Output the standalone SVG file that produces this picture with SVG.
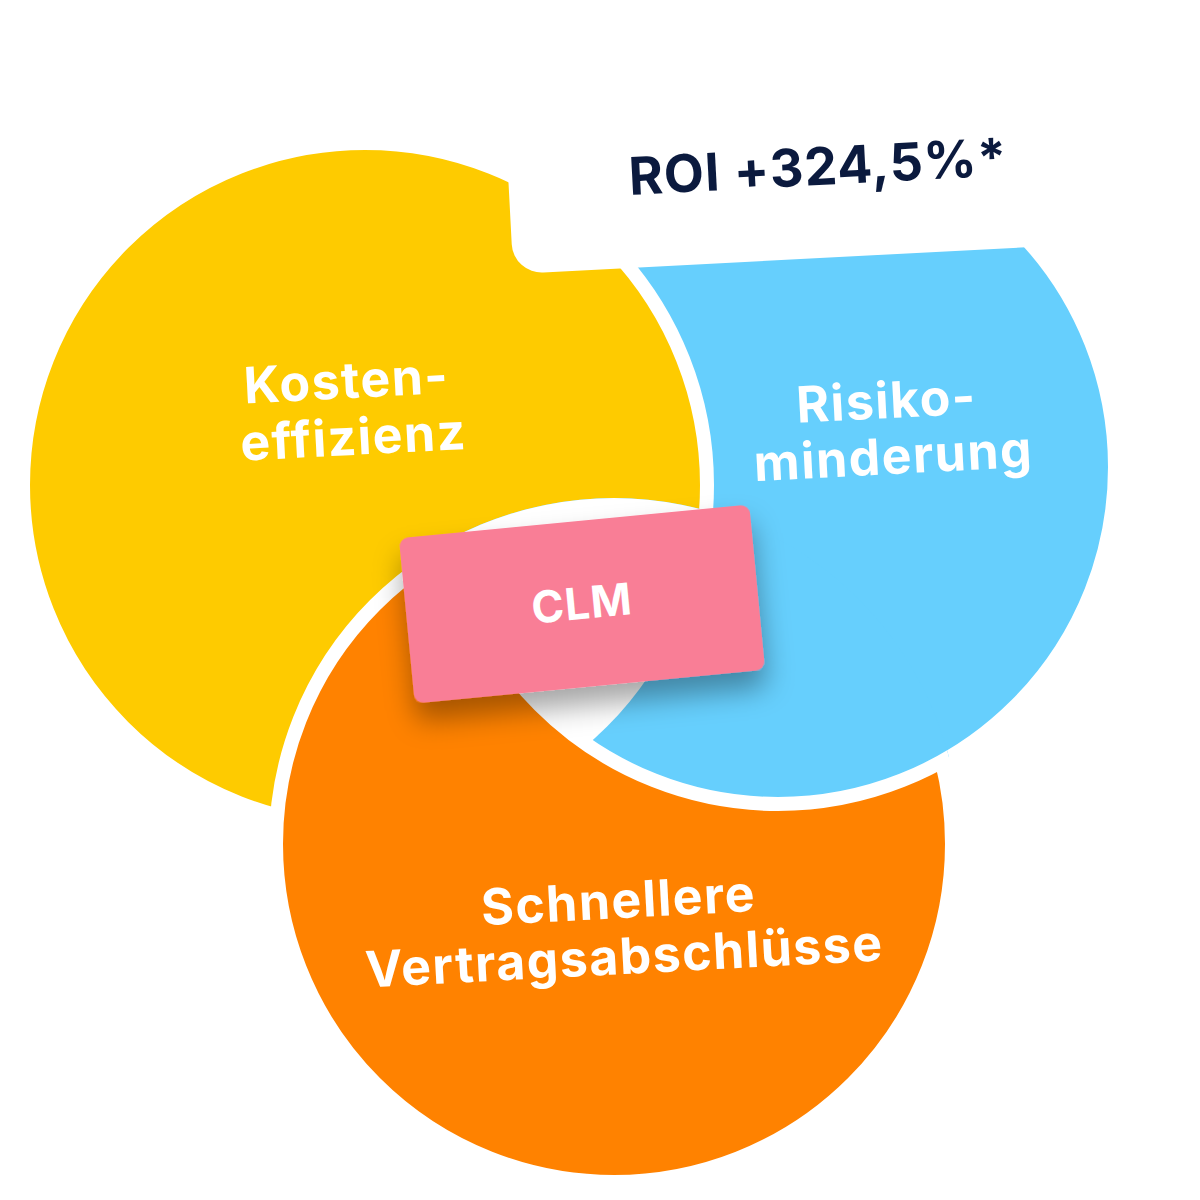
<svg xmlns="http://www.w3.org/2000/svg" width="1200" height="1200" viewBox="0 0 1200 1200">
<style>
.lbl{font-family:Inter,"Open Sans","Liberation Sans",sans-serif;font-weight:700;fill:#fff;font-size:50px;letter-spacing:1.5px;text-anchor:middle}
.ring{stroke:#fff;stroke-width:14}
</style>
<defs>
<clipPath id="cY"><circle cx="365" cy="485" r="342"/></clipPath>
<clipPath id="cO"><circle cx="614" cy="844" r="346"/></clipPath>
<clipPath id="cB"><circle cx="778" cy="467" r="337"/></clipPath>
<filter id="sh" x="-20%" y="-20%" width="140%" height="160%"><feDropShadow dx="0" dy="18" stdDeviation="14" flood-color="#000" flood-opacity="0.35"/></filter>
</defs>
<rect width="1200" height="1200" fill="#fff"/>
<g id="blue"><circle class="ring" cx="778" cy="467" r="337" fill="#66CFFD"/></g>
<g id="yellow"><circle class="ring" cx="365" cy="485" r="342" fill="#FECB00"/></g>
<g id="orange"><circle class="ring" cx="614" cy="844" r="338" fill="#FF8200"/></g>
<g id="blue-over" clip-path="url(#cO)"><circle class="ring" cx="778" cy="467" r="337" fill="#66CFFD"/>
<g clip-path="url(#cY)"><g clip-path="url(#cB)"><rect x="300" y="400" width="600" height="500" fill="#fff"/></g></g></g>
<g id="roi" transform="rotate(-3 818 165)">
<rect x="508" y="73" width="620" height="185" rx="30" fill="#fff"/>
<text x="818" y="185" font-family="Inter,'Open Sans','Liberation Sans',sans-serif" font-weight="700" font-size="52" letter-spacing="1" fill="#0B1A3E" text-anchor="middle">ROI +324,5%*</text>
</g>
<g id="labels">
<text class="lbl" transform="rotate(-3 350 410)"><tspan x="348" y="398">Kosten-</tspan><tspan x="352" y="455">effizienz</tspan></text>
<text class="lbl" transform="rotate(-3 890 430)"><tspan x="888" y="418">Risiko-</tspan><tspan x="892" y="474">minderung</tspan></text>
<text class="lbl" transform="rotate(-3 622 930)"><tspan x="620" y="918">Schnellere</tspan><tspan x="623" y="974">Vertragsabschlüsse</tspan></text>
</g>
<g id="clm" transform="rotate(-5.5 582 604)">
<rect x="406" y="521" width="352" height="166" rx="9" fill="#F97E96" filter="url(#sh)"/>
<text x="582" y="619" font-family="Inter,'Open Sans','Liberation Sans',sans-serif" font-weight="700" font-size="44" letter-spacing="1" fill="#fff" text-anchor="middle">CLM</text>
</g>
</svg>
